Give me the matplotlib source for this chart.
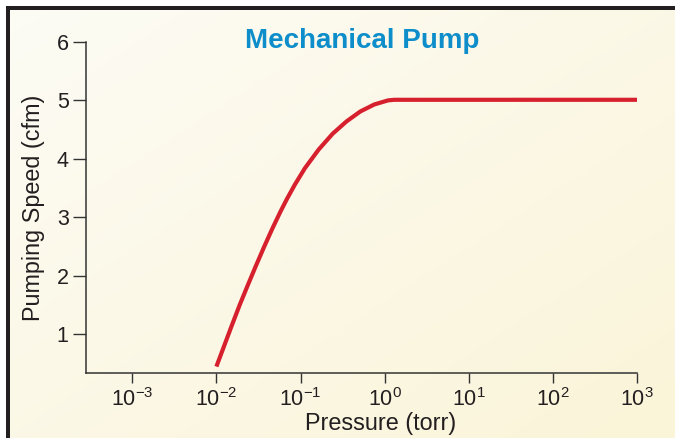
import numpy as np
import matplotlib
matplotlib.use("Agg")
import matplotlib.pyplot as plt
from matplotlib.patches import Rectangle

plt.rcParams['font.family'] = ['Liberation Sans', 'DejaVu Sans']

# ---- data ----
pressure = [0.0100, 0.01219, 0.01521, 0.01897, 0.02371, 0.02958, 0.03690,
            0.04613, 0.05754, 0.06887, 0.08590, 0.1130, 0.1648, 0.2415,
            0.3524, 0.5140, 0.7534, 1.099, 1.30, 1000.0]
speed = [0.44, 0.77, 1.14, 1.50, 1.84, 2.17, 2.49,
         2.80, 3.09, 3.31, 3.56, 3.84, 4.16, 4.43,
         4.64, 4.81, 4.93, 5.00, 5.01, 5.01]
x_ticks = [1e-3, 1e-2, 1e-1, 1e0, 1e1, 1e2, 1e3]
x_ticklabels = [r'$\mathregular{10^{-3}}$', r'$\mathregular{10^{-2}}$',
                r'$\mathregular{10^{-1}}$', r'$\mathregular{10^{0}}$',
                r'$\mathregular{10^{1}}$', r'$\mathregular{10^{2}}$',
                r'$\mathregular{10^{3}}$']
y_ticks = [1, 2, 3, 4, 5, 6]
title = "Mechanical Pump"
xlabel = "Pressure (torr)"
ylabel = "Pumping Speed (cfm)"

W, H = 675, 438
fig = plt.figure(figsize=(W / 100, H / 100), dpi=100, facecolor='white')

# background panel with soft gradient
bg = fig.add_axes([6 / W, 0, 1 - 6 / W, 1 - 6 / H], zorder=-2)
gx, gy = np.meshgrid(np.linspace(0, 1, 200), np.linspace(0, 1, 200))
g = (gx + gy) / 2
c0 = np.array([253, 252, 245]) / 255
c1 = np.array([250, 244, 216]) / 255
img = c0[None, None, :] * (1 - g[..., None]) + c1[None, None, :] * g[..., None]
bg.imshow(img, aspect='auto', extent=[0, 1, 0, 1], origin='upper')
bg.set_axis_off()

# black frame on top and left
fig.add_artist(Rectangle((6 / W, 0), 4 / W, 1 - 6 / H, transform=fig.transFigure,
                         facecolor='#231f20', edgecolor='none'))
fig.add_artist(Rectangle((6 / W, 1 - 10 / H), 1 - 6 / W, 4 / H, transform=fig.transFigure,
                         facecolor='#231f20', edgecolor='none'))

ax = fig.add_axes([86 / W, 1 - 373 / H, (637 - 86) / W, (373 - 42) / H])
ax.set_facecolor('none')
ax.plot(pressure, speed, color='#d7202e', lw=3.0, solid_capstyle='butt',
        solid_joinstyle='round')
ax.set_xscale('log')
ax.set_xlim(10 ** -3.55, 1e3)
ax.set_ylim(0.33, 6)

ax.set_xticks(x_ticks)
ax.set_xticklabels(x_ticklabels)
ax.xaxis.set_minor_locator(matplotlib.ticker.NullLocator())
ax.set_yticks(y_ticks)
ax.set_yticklabels([str(v) for v in y_ticks])

for s in ['top', 'right']:
    ax.spines[s].set_visible(False)
for s in ['left', 'bottom']:
    ax.spines[s].set_color('#333333')
    ax.spines[s].set_linewidth(1.1)

ax.tick_params(axis='x', length=7, width=1, color='#333333', labelsize=15.5,
               labelcolor='#231f20', pad=4)
ax.tick_params(axis='y', length=9.5, width=1, color='#333333', labelsize=15.5,
               labelcolor='#231f20', pad=3)

ax.set_xlabel(xlabel, fontsize=16.8, color='#231f20')
ax.xaxis.set_label_coords((381 - 86) / (637 - 86), -0.118)
ax.set_ylabel(ylabel, fontsize=16.8, color='#231f20')
ax.yaxis.set_label_coords(-0.074, 0.5)

fig.text(362 / W, 1 - 47.7 / H, title, ha='center', va='baseline',
         fontsize=20, fontweight='bold', color='#0d8ecb')

fig.savefig('out.png', dpi=100, facecolor='white')
